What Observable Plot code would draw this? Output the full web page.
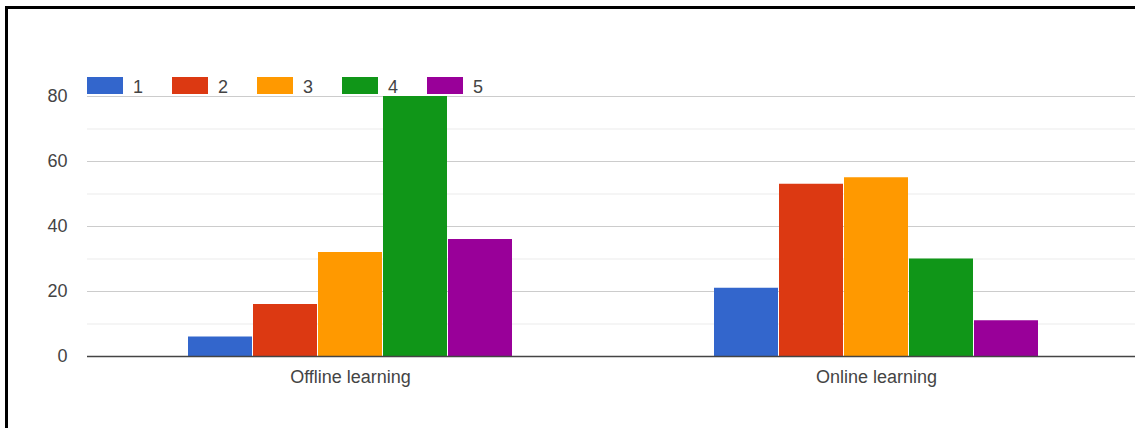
<!DOCTYPE html>
<html>
<head>
<meta charset="utf-8">
<script src="https://cdn.jsdelivr.net/npm/d3@7"></script>
<script src="https://cdn.jsdelivr.net/npm/@observablehq/plot@0.6"></script>
<style>
  html, body { margin: 0; padding: 0; background: #fff; overflow: hidden; width: 1135px; height: 428px; }
  #wrap { position: relative; width: 1135px; height: 428px; font-family: Arial, "Liberation Sans", sans-serif; overflow: hidden; }
  #wrap svg { max-width: none !important; position: absolute; left: 0; top: 0; }
  #frame { position: absolute; left: 5px; top: 6px; width: 1300px; height: 600px; border-left: 3px solid #000; border-top: 3px solid #000; pointer-events: none; }
  .lg-item { position: absolute; top: 0; height: 0; }
  .lg-sw { position: absolute; top: 77px; width: 36px; height: 17px; }
  .lg-tx { position: absolute; top: 78px; font-size: 18px; line-height: 18px; color: #444; white-space: nowrap; }
</style>
</head>
<body>
<div id="wrap"></div>
<script>
// ---- data ----
const groups = ["Offline learning", "Online learning"];
const ratings = ["1", "2", "3", "4", "5"];
const offlineValues = [6, 16, 32, 80, 36];
const onlineValues = [21, 53, 55, 30, 11];
const colors = ["#3366cc", "#dc3912", "#ff9900", "#109618", "#990099"];
const yMajorTicks = [0, 20, 40, 60, 80];
const yMinorTicks = [10, 30, 50, 70];

const table = [];
ratings.forEach((r, i) => table.push({group: groups[0], rating: r, value: offlineValues[i]}));
ratings.forEach((r, i) => table.push({group: groups[1], rating: r, value: onlineValues[i]}));

const wrap = document.getElementById("wrap");

const chart = Plot.plot({
  width: 1139,
  height: 428,
  marginLeft: 87,
  marginRight: 0,
  marginTop: 96,
  marginBottom: 72,
  style: {fontFamily: 'Arial, "Liberation Sans", sans-serif', fontSize: "18px", color: "#444", background: "transparent", maxWidth: "none", overflow: "visible"},
  fx: {domain: groups, padding: 0, label: null, axis: "bottom", tickSize: 0, tickPadding: 14},
  x: {domain: ratings, paddingInner: 0.02, paddingOuter: 1.556, axis: null},
  y: {domain: [0, 80], ticks: yMajorTicks, label: null, tickSize: 0, tickPadding: 20},
  color: {domain: ratings, range: colors},
  marks: [
    Plot.ruleY(yMinorTicks, {stroke: "#ebebeb", strokeWidth: 1}),
    Plot.ruleY(yMajorTicks.filter(d => d !== 0), {stroke: "#cccccc", strokeWidth: 1.2}),
    Plot.barY(table, {fx: "group", x: "rating", y: "value", fill: "rating"}),
    Plot.ruleY([0], {stroke: "#444", strokeWidth: 1.5})
  ]
});
wrap.appendChild(chart);

// legend overlay (top-left, inside chart area)
ratings.forEach((r, i) => {
  const item = document.createElement("div");
  item.className = "lg-item";
  item.style.left = (87 + i * 85) + "px";
  const sw = document.createElement("div");
  sw.className = "lg-sw";
  sw.style.left = "0px";
  sw.style.background = colors[i];
  const tx = document.createElement("div");
  tx.className = "lg-tx";
  tx.style.left = "46px";
  tx.textContent = r;
  item.appendChild(sw);
  item.appendChild(tx);
  wrap.appendChild(item);
});

const frame = document.createElement("div");
frame.id = "frame";
wrap.appendChild(frame);
</script>
</body>
</html>
